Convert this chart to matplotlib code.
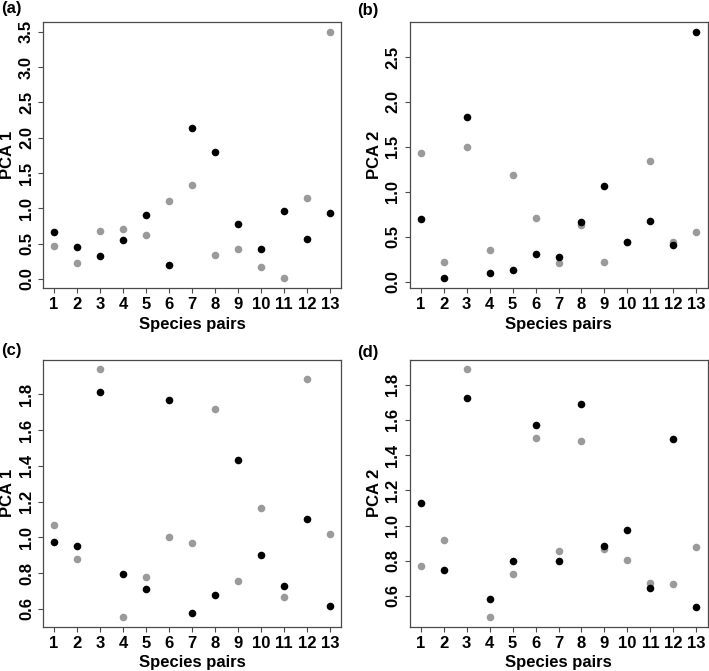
import numpy as np
import matplotlib
matplotlib.use('Agg')
import matplotlib.pyplot as plt

plt.rcParams['font.family'] = ['Liberation Sans', 'DejaVu Sans']
plt.rcParams['font.weight'] = 'bold'

pairs = np.arange(1, 14)

# (a) PCA 1
a_black = [0.67, 0.45, 0.33, 0.55, 0.90, 0.20, 2.14, 1.80, 0.78, 0.43, 0.96, 0.57, 0.94]
a_gray = [0.46, 0.23, 0.68, 0.71, 0.62, 1.10, 1.33, 0.34, 0.43, 0.17, 0.01, 1.15, 3.50]
# (b) PCA 2
b_black = [0.70, 0.04, 1.83, 0.10, 0.13, 0.31, 0.28, 0.67, 1.07, 0.44, 0.68, 0.41, 2.78]
b_gray = [1.43, 0.22, 1.50, 0.35, 1.19, 0.71, 0.21, 0.63, 0.22, 0.44, 1.34, 0.44, 0.55]
# (c) PCA 1
c_black = [0.974, 0.953, 1.813, 0.796, 0.711, 1.766, 0.576, 0.677, 1.431, 0.904, 0.731, 1.101, 0.617]
c_gray = [1.067, 0.877, 1.940, 0.557, 0.778, 1.005, 0.968, 1.718, 0.756, 1.166, 0.664, 1.884, 1.020]
# (d) PCA 2
d_black = [1.127, 0.750, 1.723, 0.585, 0.797, 1.569, 0.799, 1.690, 0.884, 0.974, 0.644, 1.491, 0.540]
d_gray = [0.771, 0.917, 1.886, 0.483, 0.723, 1.497, 0.856, 1.478, 0.866, 0.807, 0.674, 0.667, 0.879]

yticks_a = [0.0, 0.5, 1.0, 1.5, 2.0, 2.5, 3.0, 3.5]
yticks_b = [0.0, 0.5, 1.0, 1.5, 2.0, 2.5]
yticks_cd = [0.6, 0.8, 1.0, 1.2, 1.4, 1.6, 1.8]

panels = [
    ('(a)', 'PCA 1', a_black, a_gray, yticks_a),
    ('(b)', 'PCA 2', b_black, b_gray, yticks_b),
    ('(c)', 'PCA 1', c_black, c_gray, yticks_cd),
    ('(d)', 'PCA 2', d_black, d_gray, yticks_cd),
]

W, H = 709, 671
fig = plt.figure(figsize=(W / 100, H / 100), dpi=100)

# axes boxes in pixels: left, top, width, height
boxes = [(43, 22, 298, 266), (409.5, 22, 298, 266),
         (43, 359.5, 298, 267), (409.5, 359.5, 298, 267)]
tag_pos = [(1, 9), (357, 11), (1, 350), (357, 352)]

edge = '#4a4a4a'
for (tag, ylab, blk, gry, yt), (l, t, w, h), (tx, ty) in zip(panels, boxes, tag_pos):
    ax = fig.add_axes([l / W, 1 - (t + h) / H, w / W, h / H])
    ax.scatter(pairs, gry, s=30, color='#9a9a9a', linewidths=0, zorder=2)
    ax.scatter(pairs, blk, s=30, color='black', linewidths=0, zorder=3)
    ax.margins(0.04)
    ax.set_xticks(pairs)
    ax.set_yticks(yt)
    ax.set_yticklabels(['%.1f' % v for v in yt])
    for sp in ax.spines.values():
        sp.set_color(edge)
        sp.set_linewidth(0.9)
    ax.tick_params(direction='out', length=3.5, width=0.8, color=edge,
                   labelsize=12, pad=3)
    plt.setp(ax.get_yticklabels(), rotation=90, va='center')
    ax.set_xlabel('Species pairs', fontsize=12, fontweight='bold', va='center')
    ax.xaxis.set_label_coords(0.5, -36 / h)
    ax.set_ylabel(ylab, fontsize=12, fontweight='bold', va='center')
    ax.yaxis.set_label_coords(-35 / w, 0.5)
    fig.text(tx / W, 1 - ty / H, tag, fontsize=12, fontweight='bold',
             ha='left', va='center')

plt.savefig('out.png', dpi=100)
